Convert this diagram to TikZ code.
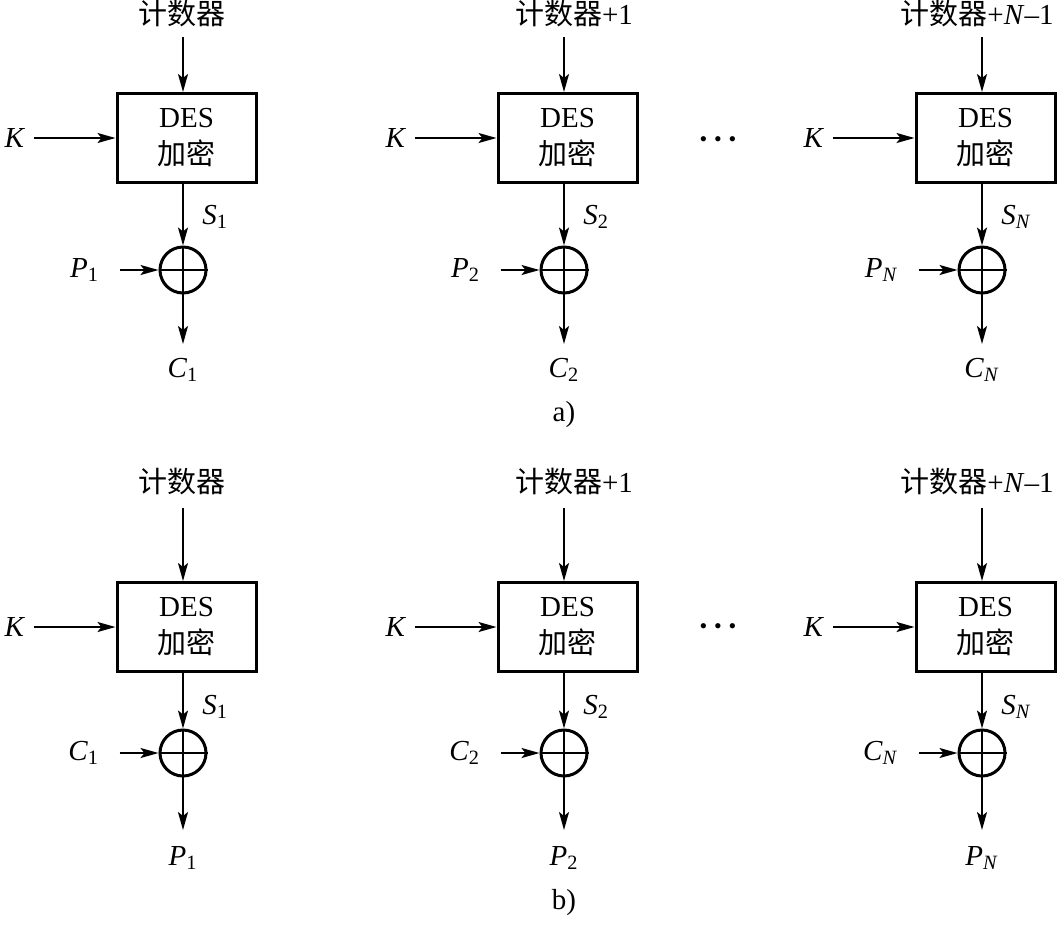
\documentclass[tikz,border=0pt]{standalone}
\usepackage{fontspec}
\setmainfont{Liberation Serif}
\newfontfamily\cjk{Noto Sans CJK SC}
\usetikzlibrary{arrows.meta}
\tikzset{
  arr/.style={line width=1pt,-{Stealth[length=9pt,width=5pt,inset=2pt]}},
  thin/.style={line width=1pt},
  desbox/.style={draw,line width=1.5pt,minimum width=69.5pt,minimum height=44.5pt,inner sep=0pt,align=center,font=\fontsize{14.5}{18.5}\selectfont},
  xorc/.style={draw,circle,line width=1.5pt,minimum size=23pt,inner sep=0pt},
  lbl/.style={font=\fontsize{14.5}{17}\selectfont,inner sep=0pt},
  dotsl/.style={font=\fontsize{11}{11}\selectfont,inner sep=0pt},
}
\newcommand\blk[7]{%
  \node[lbl] (#1t) at (#4,\rtext) {#3};
  \node[desbox] (#1b) at (#2+3.5,\rbox) {DES\\{\cjk 加密}};
  \coordinate (#1ts) at (#2,\rarr);
  \draw[arr] (#1ts) -- (#1ts |- #1b.north);
  \coordinate (#1ks) at ([xshift=-41pt]#1b.west);
  \node[lbl,anchor=east] (#1k) at ([xshift=-4pt]#1ks) {\textit{K}};
  \draw[arr] (#1ks) -- (#1b.west);
  \node[xorc] (#1x) at (#2,\rcirc) {};
  \draw[thin] (#1x.west) -- (#1x.east);
  \draw[thin] (#1x.north) -- (#1x.south);
  \draw[arr] (#1x.north |- #1b.south) -- (#1x.north);
  \node[lbl,anchor=west] (#1s) at (#2+19,\rS) {\textit{S}\textsubscript{#5}};
  \coordinate (#1is) at ([xshift=-19.5pt]#1x.west);
  \node[lbl,anchor=east] (#1i) at ([xshift=-10pt]#1is) {\textit{#6}\textsubscript{#5}};
  \draw[arr] (#1is) -- (#1x.west);
  \coordinate (#1oe) at (#2,\rtip);
  \draw[arr] (#1x.south) -- (#1oe);
  \node[lbl] (#1o) at (#2,\rout) {\textit{#7}\textsubscript{#5}};
}
\begin{document}
\begin{tikzpicture}[x=0.5pt,y=-0.5pt]
  \fill[white] (0,0) rectangle (1059,927);
  \useasboundingbox (0,0) rectangle (1059,927);
  % row a
  \def\rtext{14}\def\rarr{37}\def\rbox{138}\def\rcirc{270}\def\rtip{344}\def\rout{370}\def\rS{217}
  \blk{aa}{183}{{\cjk 计数器}}{182}{1}{P}{C}
  \blk{ab}{564}{{\cjk 计数器}+1}{574}{2}{P}{C}
  \blk{ac}{982}{{\cjk 计数器}+\textit{N}–1}{977}{\textit{N}}{P}{C}
  \node[dotsl,anchor=base] (adots) at (718,146) {•\hspace{3.4pt}•\hspace{3.4pt}•};
  \node[lbl] (acap) at (564,415) {a)};
  % row b
  \def\rtext{481}\def\rarr{508}\def\rbox{627}\def\rcirc{753}\def\rtip{830}\def\rout{858}\def\rS{707}
  \blk{ba}{183}{{\cjk 计数器}}{182}{1}{C}{P}
  \blk{bb}{564}{{\cjk 计数器}+1}{574}{2}{C}{P}
  \blk{bc}{982}{{\cjk 计数器}+\textit{N}–1}{977}{\textit{N}}{C}{P}
  \node[dotsl,anchor=base] (bdots) at (718,633) {•\hspace{3.4pt}•\hspace{3.4pt}•};
  \node[lbl] (bcap) at (564,903) {b)};
\end{tikzpicture}
\end{document}
